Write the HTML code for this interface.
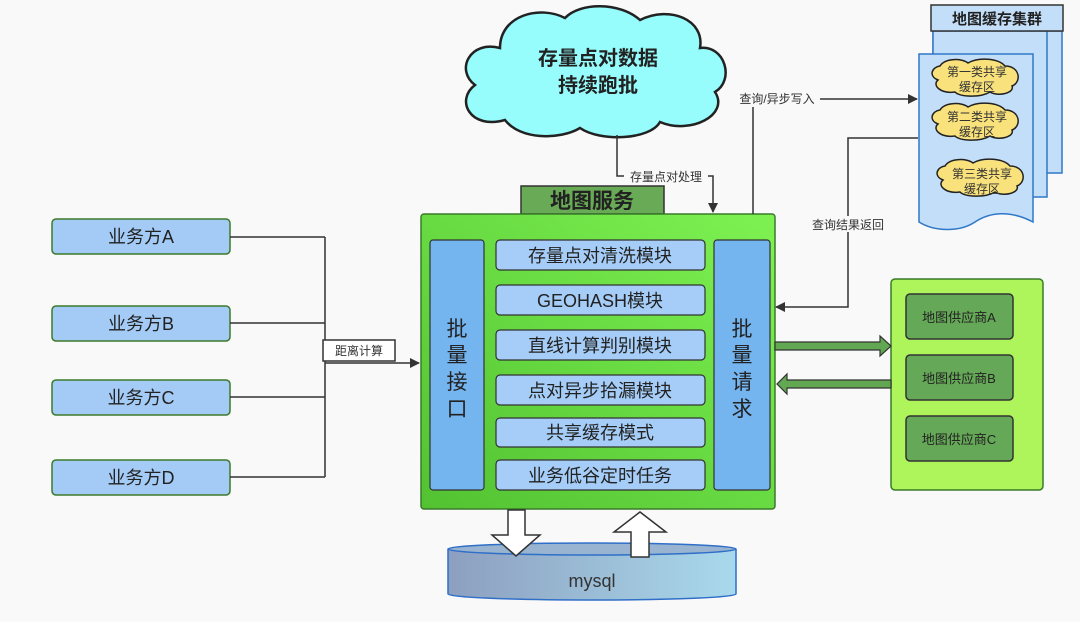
<!DOCTYPE html>
<html><head><meta charset="utf-8"><style>
html,body{margin:0;padding:0;background:#f9f9f9;}
svg{display:block;font-family:"Liberation Sans","Noto Sans CJK SC",sans-serif;}
</style></head><body>
<svg width="1080" height="622" viewBox="0 0 1080 622" xmlns="http://www.w3.org/2000/svg">
<defs>
<linearGradient id="g1" x1="0" y1="1" x2="1" y2="0"><stop offset="0" stop-color="#52c232"/><stop offset="1" stop-color="#7ef252"/></linearGradient>
<linearGradient id="g2" x1="0" y1="0" x2="1" y2="0"><stop offset="0" stop-color="#8d9fbf"/><stop offset="1" stop-color="#a9d9ec"/></linearGradient>
<marker id="ar" markerWidth="10" markerHeight="10" refX="9" refY="5" orient="auto" markerUnits="userSpaceOnUse"><path d="M0,0 L10,5 L0,10 z" fill="#333"/></marker>
</defs>
<rect width="1080" height="622" fill="#f9f9f9"/>

<!-- cloud -->
<path d="M500,48 C470,40 455,70 475,85 C455,100 470,130 505,120 C520,140 560,140 580,128 C600,142 650,140 660,122 C690,135 730,115 715,92 C735,80 725,45 700,48 C705,20 670,5 640,20 C620,2 580,2 565,18 C540,5 500,15 500,48 Z" fill="#96fcfc" stroke="#222" stroke-width="2.5"/>
<text x="598" y="65" font-size="20" font-weight="bold" fill="#222" text-anchor="middle">存量点对数据</text>
<text x="598" y="92" font-size="20" font-weight="bold" fill="#222" text-anchor="middle">持续跑批</text>

<!-- cloud to service -->
<path d="M617,135 V176 H713 V212" fill="none" stroke="#333" stroke-width="1.5" marker-end="url(#ar)"/>
<rect x="624" y="168" width="84" height="16" fill="#f9f9f9"/>
<text x="666" y="181" font-size="12" fill="#333" text-anchor="middle">存量点对处理</text>

<!-- main service -->
<rect x="521" y="186" width="143" height="28" fill="#68aa55" stroke="#333" stroke-width="1.5"/>
<text x="592" y="208" font-size="21" font-weight="bold" fill="#222" text-anchor="middle">地图服务</text>
<rect x="421" y="214" width="354" height="295" rx="3" fill="url(#g1)" stroke="#3a7a2a" stroke-width="1.5"/>
<rect x="430" y="240" width="54" height="250" rx="3" fill="#74b4ef" stroke="#333" stroke-width="1.2"/>
<rect x="714" y="240" width="56" height="250" rx="3" fill="#74b4ef" stroke="#333" stroke-width="1.2"/>
<g font-size="21" fill="#222" text-anchor="middle">
<text x="457" y="336">批</text><text x="457" y="362">量</text><text x="457" y="389">接</text><text x="457" y="416">口</text>
<text x="742" y="336">批</text><text x="742" y="362">量</text><text x="742" y="389">请</text><text x="742" y="416">求</text>
</g>
<g fill="#a5cdf7" stroke="#333" stroke-width="1.2">
<rect x="496" y="240" width="209" height="30" rx="4"/>
<rect x="496" y="285" width="209" height="30" rx="4"/>
<rect x="496" y="330" width="209" height="30" rx="4"/>
<rect x="496" y="375" width="209" height="30" rx="4"/>
<rect x="496" y="418" width="209" height="29" rx="4"/>
<rect x="496" y="460" width="209" height="30" rx="4"/>
</g>
<g font-size="18" fill="#222" text-anchor="middle">
<text x="600" y="262">存量点对清洗模块</text>
<text x="600" y="307">GEOHASH模块</text>
<text x="600" y="352">直线计算判别模块</text>
<text x="600" y="397">点对异步拾漏模块</text>
<text x="600" y="439">共享缓存模式</text>
<text x="600" y="482">业务低谷定时任务</text>
</g>

<!-- cache cluster -->
<rect x="933" y="31" width="129" height="142" fill="#c3def8" stroke="#2f78c8" stroke-width="1.5"/>
<rect x="933" y="31" width="114" height="166" fill="#c3def8" stroke="#2f78c8" stroke-width="1.5"/>
<path d="M919,54 H1033 V222 C1010,210 990,212 975,222 C960,232 935,232 919,222 Z" fill="#c3def8" stroke="#2f78c8" stroke-width="1.5"/>
<rect x="931" y="5" width="132" height="26" fill="#c3def8" stroke="#333" stroke-width="1.5"/>
<text x="997" y="24" font-size="15" font-weight="bold" fill="#222" text-anchor="middle">地图缓存集群</text>
<g fill="#f9e27c" stroke="#222" stroke-width="1.5">
<path d="M940,66 C945,58 962,58 968,63 C978,57 998,58 1005,66 C1020,66 1022,82 1012,86 C1015,93 998,97 990,92 C980,98 960,97 955,92 C940,94 932,85 938,80 C928,76 932,67 940,66 Z"/>
<path d="M940,110 C945,102 962,102 968,107 C978,101 998,102 1005,110 C1020,110 1022,126 1012,130 C1015,137 998,141 990,136 C980,142 960,141 955,136 C940,138 932,129 938,124 C928,120 932,111 940,110 Z"/>
<path d="M945,166 C950,158 967,158 973,163 C983,157 1003,158 1010,166 C1025,166 1027,182 1017,186 C1020,193 1003,197 995,192 C985,198 965,197 960,192 C945,194 937,185 943,180 C933,176 937,167 945,166 Z"/>
</g>
<g font-size="12" fill="#333" text-anchor="middle">
<text x="977" y="76">第一类共享</text><text x="977" y="91">缓存区</text>
<text x="977" y="121">第二类共享</text><text x="977" y="136">缓存区</text>
<text x="982" y="178">第三类共享</text><text x="982" y="193">缓存区</text>
</g>

<!-- query lines -->
<path d="M753,214 V99 H917" fill="none" stroke="#333" stroke-width="1.5" marker-end="url(#ar)"/>
<rect x="734" y="91" width="86" height="16" fill="#f9f9f9"/>
<text x="777" y="103" font-size="12" fill="#333" text-anchor="middle">查询/异步写入</text>
<path d="M918,138 H848 V307 H776" fill="none" stroke="#333" stroke-width="1.5" marker-end="url(#ar)"/>
<rect x="806" y="216" width="84" height="16" fill="#f9f9f9"/>
<text x="848" y="229" font-size="12" fill="#333" text-anchor="middle">查询结果返回</text>

<!-- providers -->
<rect x="891" y="279" width="152" height="211" rx="4" fill="#adf55a" stroke="#3a7a2a" stroke-width="1.5"/>
<g fill="#65a857" stroke="#333" stroke-width="1.5">
<rect x="906" y="294" width="107" height="45" rx="4"/>
<rect x="906" y="355" width="107" height="45" rx="4"/>
<rect x="906" y="416" width="107" height="45" rx="4"/>
</g>
<g font-size="13" fill="#222" text-anchor="middle">
<text x="959" y="322">地图供应商A</text>
<text x="959" y="383">地图供应商B</text>
<text x="959" y="444">地图供应商C</text>
</g>
<path d="M775,342 H880 V336 L891,346 L880,356 V350 H775 Z" fill="#62a852" stroke="#333" stroke-width="1.2"/>
<path d="M891,380 H787 V374 L777,384 L787,394 V388 H891 Z" fill="#62a852" stroke="#333" stroke-width="1.2"/>

<!-- business parties -->
<g fill="#a3cbf6" stroke="#3a7a2a" stroke-width="1.5">
<rect x="52" y="219" width="178" height="35" rx="4"/>
<rect x="52" y="306" width="178" height="35" rx="4"/>
<rect x="52" y="380" width="178" height="35" rx="4"/>
<rect x="52" y="460" width="178" height="35" rx="4"/>
</g>
<g font-size="18" fill="#222" text-anchor="middle">
<text x="141" y="243">业务方A</text>
<text x="141" y="330">业务方B</text>
<text x="141" y="404">业务方C</text>
<text x="141" y="484">业务方D</text>
</g>
<path d="M230,237 H325 M230,323 H325 M230,397 H325 M230,477 H325 M325,237 V477" fill="none" stroke="#333" stroke-width="1.5"/>
<path d="M325,363 H419" fill="none" stroke="#333" stroke-width="1.5" marker-end="url(#ar)"/>
<rect x="323" y="340" width="72" height="21" fill="#fff" stroke="#333" stroke-width="1.5"/>
<text x="359" y="355" font-size="12" fill="#333" text-anchor="middle">距离计算</text>

<!-- mysql -->
<path d="M448,549 V594 A144,6 0 0 0 736,594 V549" fill="url(#g2)" stroke="#2f6fc8" stroke-width="1.5"/>
<ellipse cx="592" cy="549" rx="144" ry="6" fill="#98b4d0" stroke="#2f6fc8" stroke-width="1.5"/>
<text x="592" y="587" font-size="18" fill="#333" text-anchor="middle">mysql</text>
<path d="M508,510 H525 V535 H540 L516,556 L492,535 H508 Z" fill="#fff" stroke="#333" stroke-width="1.5"/>
<path d="M631,557 V532 H614 L640,512 L666,532 H649 V557 Z" fill="#fff" stroke="#333" stroke-width="1.5"/>
</svg>
</body></html>
